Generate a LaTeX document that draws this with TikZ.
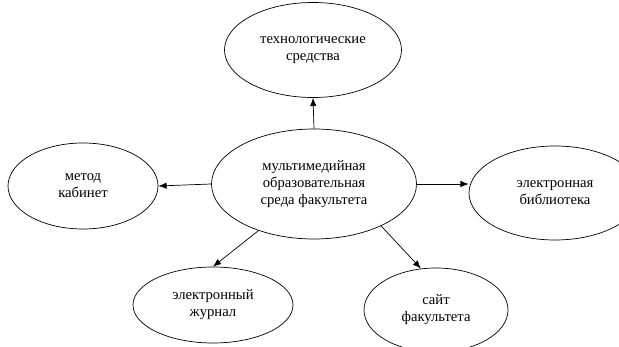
\documentclass[tikz,border=0pt]{standalone}
\usepackage{fontspec}
\setmainfont{Liberation Serif}
\usetikzlibrary{shapes.geometric,arrows.meta}

\begin{document}
\begin{tikzpicture}[x=0.03cm, y=-0.03cm,
  oval/.style={draw, ellipse, line width=0.6pt, inner sep=0pt, align=center,
    font=\fontsize{12.5}{14.5}\selectfont},
  link/.style={line width=0.6pt, -{Latex[length=7pt,width=5.5pt]}}]
  % Fix the page size
  \useasboundingbox (0,0) rectangle (619,347);

  % Draw the ellipses
  \node[oval, minimum width=6.15cm, minimum height=3.3cm] (env) at (314,184)
    {мультимедийная\\образовательная\\среда факультета};
  \node[oval, minimum width=5.31cm, minimum height=2.85cm] (tech) at (313,50)
    {технологические\\средства};
  \node[oval, minimum width=4.5cm, minimum height=2.58cm] (kab) at (83,186)
    {метод\\кабинет};
  \node[oval, minimum width=5.16cm, minimum height=2.82cm] (lib) at (555,193)
    {электронная\\библиотека};
  \node[oval, minimum width=4.8cm, minimum height=2.28cm] (jur) at (213,305)
    {электронный\\журнал};
  \node[oval, minimum width=4.32cm, minimum height=2.52cm] (sait) at (436,310)
    {сайт\\факультета};

  % Draw the arrows
  \draw[link] (env.north) -- (tech.south);
  \draw[link] (env.west) -- (kab.east);
  \draw[link] (env.east) -- (env.east -| lib.west);
  \draw[link] (env.220) -- (jur.north);
  \draw[link] (env.328) -- (sait.110);
\end{tikzpicture}
\end{document}
